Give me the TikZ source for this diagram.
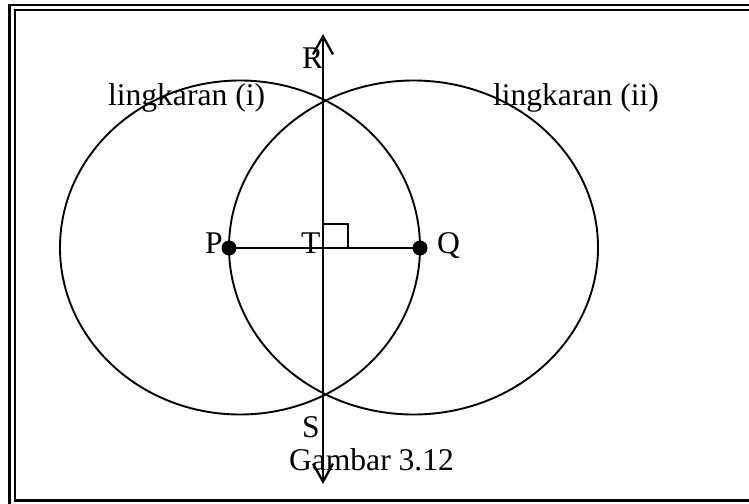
\documentclass[tikz,border=0pt]{standalone}
\usepackage{fontspec}
\setmainfont{Liberation Serif}
\usetikzlibrary{arrows.meta}
\tikzset{
  lbl/.style={anchor=base west, inner sep=0pt, outer sep=0pt, font=\fontsize{31.6}{36}\selectfont},
  curve/.style={line width=1.9pt},
  seg/.style={line width=2.3pt},
  dotpt/.style={circle, fill=black, inner sep=0pt, minimum size=15pt},
}
\begin{document}
\begin{tikzpicture}[x=1pt,y=-1pt]
\useasboundingbox (0,0) rectangle (749,503);
\begin{scope}
\clip (0,0) rectangle (749,503);
\draw[line width=2.8pt] (9.5,5) rectangle (770,520);
\draw[line width=2.4pt] (15,10) rectangle (765,500.5);
\end{scope}
% key points
\coordinate (T) at (323,248);
\coordinate (topend) at (323,34);
\coordinate (botend) at (323,484);
\node[dotpt] (P) at (229,248) {};
\node[dotpt] (Q) at (420,248) {};
% circles
\draw[curve] (240,247.5) ellipse [x radius=180pt, y radius=167pt];
\draw[curve] (413.5,247.5) ellipse [x radius=184.5pt, y radius=167pt];
% segment PQ
\draw[seg] (P.center) -- (Q.center);
% right angle mark
\draw[line width=1.9pt] (T) rectangle +(25,-24);
% perpendicular line
\draw[seg, {Straight Barb[length=18pt,width=20pt,line width=2.3pt]}-{Straight Barb[length=18pt,width=20pt,line width=2.3pt]}] (botend) -- (topend);
% labels
\node[lbl] (lR) at (302,69) {R};
\node[lbl] (lS) at (302,437) {S};
\node[lbl] (lP) at (205,253) {P};
\node[lbl] (lT) at (301,253) {T};
\node[lbl] (lQ) at (437,253) {Q};
\node[lbl] (l1) at (108,105) {lingkaran (i)};
\node[lbl] (l2) at (493,105) {lingkaran (ii)};
\node[lbl] (cap) at (289,470) {Gambar 3.12};
\end{tikzpicture}
\end{document}
